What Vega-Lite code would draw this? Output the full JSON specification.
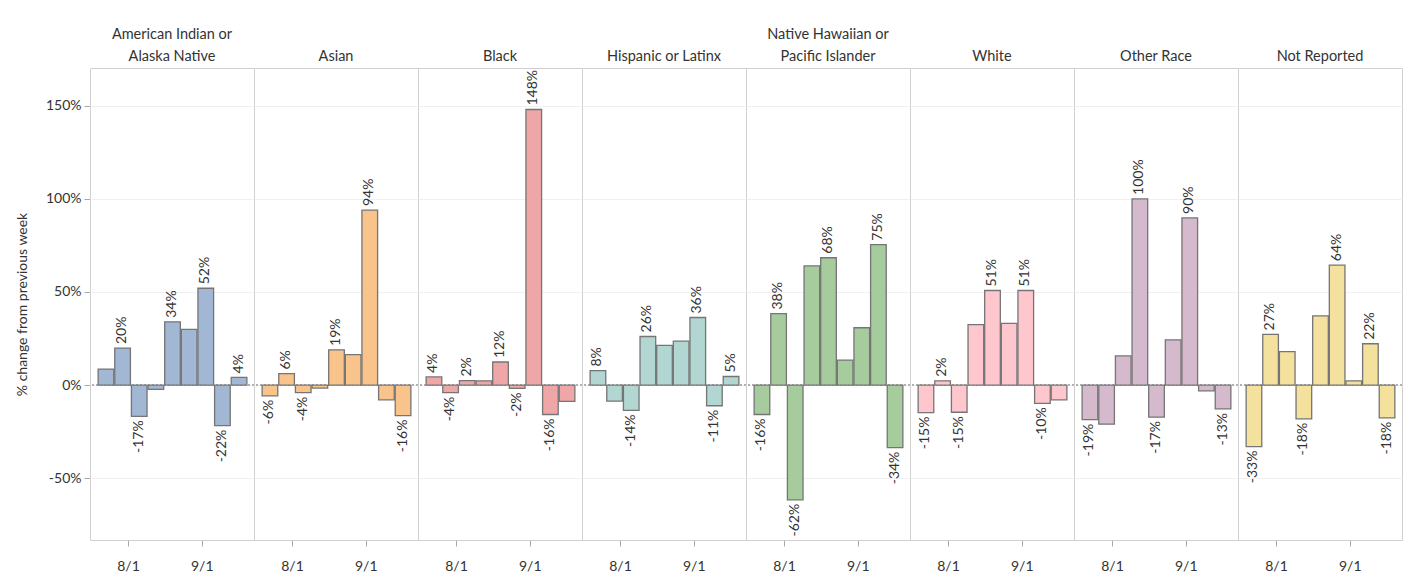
{
  "$schema": "https://vega.github.io/schema/vega-lite/v6.json",
  "padding": {"left": 15, "top": 26, "right": 0, "bottom": 0},
  "background": "white",
  "config": {
    "font": "Lato",
    "locale": {"number": {"decimal": ".", "thousands": ",", "grouping": [3], "currency": ["$", ""], "minus": "-"}},
    "view": {"stroke": "#d0d0d0", "strokeWidth": 1},
    "facet": {"spacing": 0}
  },
  "data": {
    "values": [
      {"race": "American Indian or Alaska Native", "week": "2020-07-19T00:00:00", "change": 0.086, "label": false},
      {"race": "American Indian or Alaska Native", "week": "2020-07-26T00:00:00", "change": 0.199, "label": true},
      {"race": "American Indian or Alaska Native", "week": "2020-08-02T00:00:00", "change": -0.168, "label": true},
      {"race": "American Indian or Alaska Native", "week": "2020-08-09T00:00:00", "change": -0.023, "label": false},
      {"race": "American Indian or Alaska Native", "week": "2020-08-16T00:00:00", "change": 0.34, "label": true},
      {"race": "American Indian or Alaska Native", "week": "2020-08-23T00:00:00", "change": 0.299, "label": false},
      {"race": "American Indian or Alaska Native", "week": "2020-08-30T00:00:00", "change": 0.52, "label": true},
      {"race": "American Indian or Alaska Native", "week": "2020-09-06T00:00:00", "change": -0.218, "label": true},
      {"race": "American Indian or Alaska Native", "week": "2020-09-13T00:00:00", "change": 0.041, "label": true},

      {"race": "Asian", "week": "2020-07-19T00:00:00", "change": -0.058, "label": true},
      {"race": "Asian", "week": "2020-07-26T00:00:00", "change": 0.062, "label": true},
      {"race": "Asian", "week": "2020-08-02T00:00:00", "change": -0.041, "label": true},
      {"race": "Asian", "week": "2020-08-09T00:00:00", "change": -0.016, "label": false},
      {"race": "Asian", "week": "2020-08-16T00:00:00", "change": 0.189, "label": true},
      {"race": "Asian", "week": "2020-08-23T00:00:00", "change": 0.164, "label": false},
      {"race": "Asian", "week": "2020-08-30T00:00:00", "change": 0.94, "label": true},
      {"race": "Asian", "week": "2020-09-06T00:00:00", "change": -0.079, "label": false},
      {"race": "Asian", "week": "2020-09-13T00:00:00", "change": -0.164, "label": true},

      {"race": "Black", "week": "2020-07-19T00:00:00", "change": 0.044, "label": true},
      {"race": "Black", "week": "2020-07-26T00:00:00", "change": -0.041, "label": true},
      {"race": "Black", "week": "2020-08-02T00:00:00", "change": 0.024, "label": true},
      {"race": "Black", "week": "2020-08-09T00:00:00", "change": 0.023, "label": false},
      {"race": "Black", "week": "2020-08-16T00:00:00", "change": 0.124, "label": true},
      {"race": "Black", "week": "2020-08-23T00:00:00", "change": -0.018, "label": true},
      {"race": "Black", "week": "2020-08-30T00:00:00", "change": 1.48, "label": true},
      {"race": "Black", "week": "2020-09-06T00:00:00", "change": -0.158, "label": true},
      {"race": "Black", "week": "2020-09-13T00:00:00", "change": -0.088, "label": false},

      {"race": "Hispanic or Latinx", "week": "2020-07-19T00:00:00", "change": 0.078, "label": true},
      {"race": "Hispanic or Latinx", "week": "2020-07-26T00:00:00", "change": -0.086, "label": false},
      {"race": "Hispanic or Latinx", "week": "2020-08-02T00:00:00", "change": -0.136, "label": true},
      {"race": "Hispanic or Latinx", "week": "2020-08-09T00:00:00", "change": 0.261, "label": true},
      {"race": "Hispanic or Latinx", "week": "2020-08-16T00:00:00", "change": 0.213, "label": false},
      {"race": "Hispanic or Latinx", "week": "2020-08-23T00:00:00", "change": 0.236, "label": false},
      {"race": "Hispanic or Latinx", "week": "2020-08-30T00:00:00", "change": 0.363, "label": true},
      {"race": "Hispanic or Latinx", "week": "2020-09-06T00:00:00", "change": -0.111, "label": true},
      {"race": "Hispanic or Latinx", "week": "2020-09-13T00:00:00", "change": 0.046, "label": true},

      {"race": "Native Hawaiian or Pacific Islander", "week": "2020-07-19T00:00:00", "change": -0.158, "label": true},
      {"race": "Native Hawaiian or Pacific Islander", "week": "2020-07-26T00:00:00", "change": 0.384, "label": true},
      {"race": "Native Hawaiian or Pacific Islander", "week": "2020-08-02T00:00:00", "change": -0.616, "label": true},
      {"race": "Native Hawaiian or Pacific Islander", "week": "2020-08-09T00:00:00", "change": 0.64, "label": false},
      {"race": "Native Hawaiian or Pacific Islander", "week": "2020-08-16T00:00:00", "change": 0.684, "label": true},
      {"race": "Native Hawaiian or Pacific Islander", "week": "2020-08-23T00:00:00", "change": 0.134, "label": false},
      {"race": "Native Hawaiian or Pacific Islander", "week": "2020-08-30T00:00:00", "change": 0.308, "label": false},
      {"race": "Native Hawaiian or Pacific Islander", "week": "2020-09-06T00:00:00", "change": 0.754, "label": true},
      {"race": "Native Hawaiian or Pacific Islander", "week": "2020-09-13T00:00:00", "change": -0.336, "label": true},

      {"race": "White", "week": "2020-07-19T00:00:00", "change": -0.148, "label": true},
      {"race": "White", "week": "2020-07-26T00:00:00", "change": 0.023, "label": true},
      {"race": "White", "week": "2020-08-02T00:00:00", "change": -0.146, "label": true},
      {"race": "White", "week": "2020-08-09T00:00:00", "change": 0.325, "label": false},
      {"race": "White", "week": "2020-08-16T00:00:00", "change": 0.508, "label": true},
      {"race": "White", "week": "2020-08-23T00:00:00", "change": 0.331, "label": false},
      {"race": "White", "week": "2020-08-30T00:00:00", "change": 0.508, "label": true},
      {"race": "White", "week": "2020-09-06T00:00:00", "change": -0.098, "label": true},
      {"race": "White", "week": "2020-09-13T00:00:00", "change": -0.079, "label": false},

      {"race": "Other Race", "week": "2020-07-19T00:00:00", "change": -0.186, "label": true},
      {"race": "Other Race", "week": "2020-07-26T00:00:00", "change": -0.21, "label": false},
      {"race": "Other Race", "week": "2020-08-02T00:00:00", "change": 0.157, "label": false},
      {"race": "Other Race", "week": "2020-08-09T00:00:00", "change": 1.0, "label": true},
      {"race": "Other Race", "week": "2020-08-16T00:00:00", "change": -0.172, "label": true},
      {"race": "Other Race", "week": "2020-08-23T00:00:00", "change": 0.243, "label": false},
      {"race": "Other Race", "week": "2020-08-30T00:00:00", "change": 0.898, "label": true},
      {"race": "Other Race", "week": "2020-09-06T00:00:00", "change": -0.031, "label": false},
      {"race": "Other Race", "week": "2020-09-13T00:00:00", "change": -0.128, "label": true},

      {"race": "Not Reported", "week": "2020-07-19T00:00:00", "change": -0.33, "label": true},
      {"race": "Not Reported", "week": "2020-07-26T00:00:00", "change": 0.272, "label": true},
      {"race": "Not Reported", "week": "2020-08-02T00:00:00", "change": 0.18, "label": false},
      {"race": "Not Reported", "week": "2020-08-09T00:00:00", "change": -0.181, "label": true},
      {"race": "Not Reported", "week": "2020-08-16T00:00:00", "change": 0.372, "label": false},
      {"race": "Not Reported", "week": "2020-08-23T00:00:00", "change": 0.644, "label": true},
      {"race": "Not Reported", "week": "2020-08-30T00:00:00", "change": 0.023, "label": false},
      {"race": "Not Reported", "week": "2020-09-06T00:00:00", "change": 0.222, "label": true},
      {"race": "Not Reported", "week": "2020-09-13T00:00:00", "change": -0.176, "label": true}
    ]
  },
  "facet": {
    "column": {
      "field": "race",
      "type": "nominal",
      "sort": ["American Indian or Alaska Native", "Asian", "Black", "Hispanic or Latinx", "Native Hawaiian or Pacific Islander", "White", "Other Race", "Not Reported"],
      "title": null,
      "header": {
        "labelOrient": "top",
        "labelFontSize": 14.5,
        "labelColor": "#333333",
        "labelBaseline": "bottom",
        "labelLineHeight": 22,
        "labelPadding": -10,
        "labelExpr": "(datum.value == 'American Indian or Alaska Native') ? ['American Indian or', 'Alaska Native'] : ((datum.value == 'Native Hawaiian or Pacific Islander') ? ['Native Hawaiian or', 'Pacific Islander'] : (datum.label))"
      }
    }
  },
  "spacing": 0,
  "bounds": "flush",
  "spec": {
    "width": 164,
    "height": 472,
    "layer": [
      {
        "mark": {"type": "rule", "color": "#b0b0b0", "strokeDash": [2, 2], "strokeWidth": 1},
        "encoding": {"y": {"datum": 0, "type": "quantitative"}}
      },
      {
        "mark": {"type": "bar", "stroke": "#757575", "strokeWidth": 1.3},
        "encoding": {
          "x": {
            "field": "week", "timeUnit": "yearweek", "type": "temporal",
            "scale": {"domain": [{"year": 2020, "month": 7, "date": 16}, {"year": 2020, "month": 9, "date": 23}]},
            "axis": {
              "title": null,
              "values": [{"year": 2020, "month": 8, "date": 1}, {"year": 2020, "month": 9, "date": 1}],
              "format": "%-m/%-d", "formatType": "time",
              "grid": false, "domain": false,
              "tickColor": "#a8a8a8", "tickSize": 6,
              "labelFontSize": 14, "labelColor": "#333333", "labelPadding": 13
            }
          },
          "y": {
            "field": "change", "type": "quantitative",
            "scale": {"domain": [-0.832, 1.703], "nice": false, "zero": false},
            "axis": {
              "title": "% change from previous week",
              "titleFontSize": 14, "titleFontWeight": "normal", "titleColor": "#333333", "titlePadding": 16,
              "values": [-0.5, 0, 0.5, 1, 1.5],
              "format": ".0%",
              "grid": true, "gridColor": "#f0f0f0",
              "domain": false,
              "tickColor": "#a8a8a8", "tickSize": 6,
              "labelFontSize": 14, "labelColor": "#333333", "labelPadding": 3
            }
          },
          "color": {
            "field": "race", "type": "nominal", "legend": null,
            "scale": {
              "domain": ["American Indian or Alaska Native", "Asian", "Black", "Hispanic or Latinx", "Native Hawaiian or Pacific Islander", "White", "Other Race", "Not Reported"],
              "range": ["#a1b7d3", "#f8c48c", "#efa6a7", "#b2d6d1", "#a6cb9d", "#fec7cd", "#d5b9cd", "#f4e19d"]
            }
          }
        }
      },
      {
        "transform": [{"filter": "datum.label && datum.change >= 0"}],
        "mark": {"type": "text", "angle": 270, "align": "left", "baseline": "middle", "dx": 4, "fontSize": 14, "color": "#333333"},
        "encoding": {
          "x": {"field": "week", "timeUnit": "yearweek", "type": "temporal", "bandPosition": 0.5},
          "y": {"field": "change", "type": "quantitative"},
          "text": {"field": "change", "type": "quantitative", "format": ".0%"}
        }
      },
      {
        "transform": [{"filter": "datum.label && datum.change < 0"}],
        "mark": {"type": "text", "angle": 270, "align": "right", "baseline": "middle", "dx": -4, "fontSize": 14, "color": "#333333"},
        "encoding": {
          "x": {"field": "week", "timeUnit": "yearweek", "type": "temporal", "bandPosition": 0.5},
          "y": {"field": "change", "type": "quantitative"},
          "text": {"field": "change", "type": "quantitative", "format": ".0%"}
        }
      }
    ]
  }
}
